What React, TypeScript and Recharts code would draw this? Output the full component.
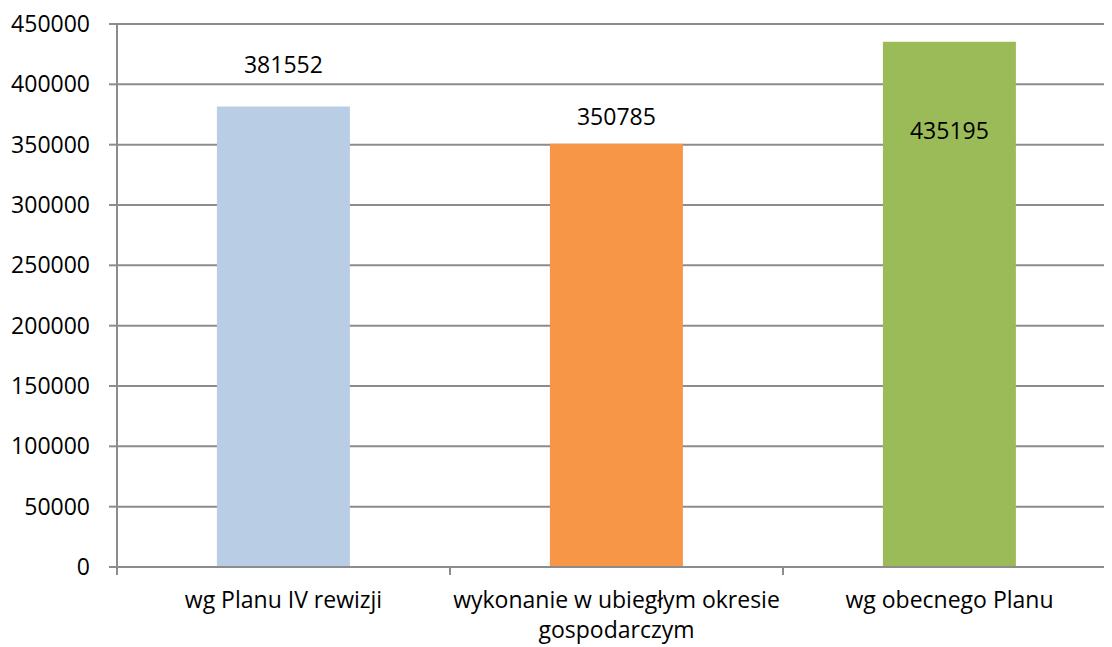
import { BarChart, Bar, XAxis, YAxis, CartesianGrid, Cell, LabelList } from 'recharts';

const categories = [
  'wg Planu IV rewizji',
  'wykonanie w ubiegłym okresie gospodarczym',
  'wg obecnego Planu',
];
const values = [381552, 350785, 435195];
const barColors = ['#B9CDE5', '#F79646', '#9BBB59'];
const yTicks = [0, 50000, 100000, 150000, 200000, 250000, 300000, 350000, 400000, 450000];

// label placement relative to the bar top (as in the original Excel chart)
const labelShift = [-42, -27, 89];

const FONT = '"Open Sans", "Liberation Sans", sans-serif';
const GRID = '#8c8c8c';
const FS = 23;

const W = 1120;
const H = 647;
const M = { top: 24, right: 4, left: 0, bottom: 0 };
const Y_W = 117;
const X_H = 80;

const band = (W - M.left - M.right - Y_W) / categories.length;

const chartData = categories.map((name, i) => ({ name, value: values[i] }));

function wrap(text: string, max = 30) {
  const words = text.split(' ');
  const lines: string[] = [];
  let cur = '';
  for (const w of words) {
    if (cur && (cur + ' ' + w).length > max) {
      lines.push(cur);
      cur = w;
    } else {
      cur = cur ? cur + ' ' + w : w;
    }
  }
  if (cur) lines.push(cur);
  return lines;
}

const CategoryTick = ({ x, y, payload, index }: any) => {
  const lines = wrap(payload.value);
  const left = x - band / 2;
  return (
    <g>
      <line x1={left} y1={y} x2={left} y2={y + 8} stroke={GRID} strokeWidth={2} />
      {index === categories.length - 1 && (
        <line x1={x + band / 2} y1={y} x2={x + band / 2} y2={y + 8} stroke={GRID} strokeWidth={2} />
      )}
      {lines.map((l, i) => (
        <text
          key={i}
          x={x}
          y={y + 41 + i * 30}
          textAnchor="middle"
          fontSize={FS}
          fontFamily={FONT}
          fill="#000"
        >
          {l}
        </text>
      ))}
    </g>
  );
};

const ValueLabel = ({ x, y, width, value, index }: any) => (
  <text
    x={x + width / 2}
    y={y + labelShift[index]}
    dy="0.355em"
    textAnchor="middle"
    fontSize={FS}
    fontFamily={FONT}
    fill="#000"
  >
    {value}
  </text>
);

export default function App() {
  return (
    <div style={{ margin: '-8px 0 0 -8px', width: 1112, height: H, overflow: 'hidden', background: '#fff' }}>
      <BarChart width={W} height={H} data={chartData} margin={M} barCategoryGap="30%">
        <CartesianGrid vertical={false} stroke={GRID} strokeWidth={2} />
        <XAxis
          dataKey="name"
          height={X_H}
          axisLine={{ stroke: GRID, strokeWidth: 2 }}
          tickLine={false}
          tickSize={0}
          tickMargin={0}
          interval={0}
          tick={<CategoryTick />}
        />
        <YAxis
          width={Y_W}
          domain={[0, 450000]}
          ticks={yTicks}
          interval={0}
          axisLine={{ stroke: GRID, strokeWidth: 2 }}
          tickLine={{ stroke: GRID, strokeWidth: 2 }}
          tickSize={8}
          tickMargin={19}
          tick={{ fontSize: FS, fill: '#000', fontFamily: FONT }}
        />
        <Bar dataKey="value" isAnimationActive={false}>
          {chartData.map((_, i) => (
            <Cell key={i} fill={barColors[i]} />
          ))}
          <LabelList dataKey="value" content={<ValueLabel />} />
        </Bar>
      </BarChart>
    </div>
  );
}
